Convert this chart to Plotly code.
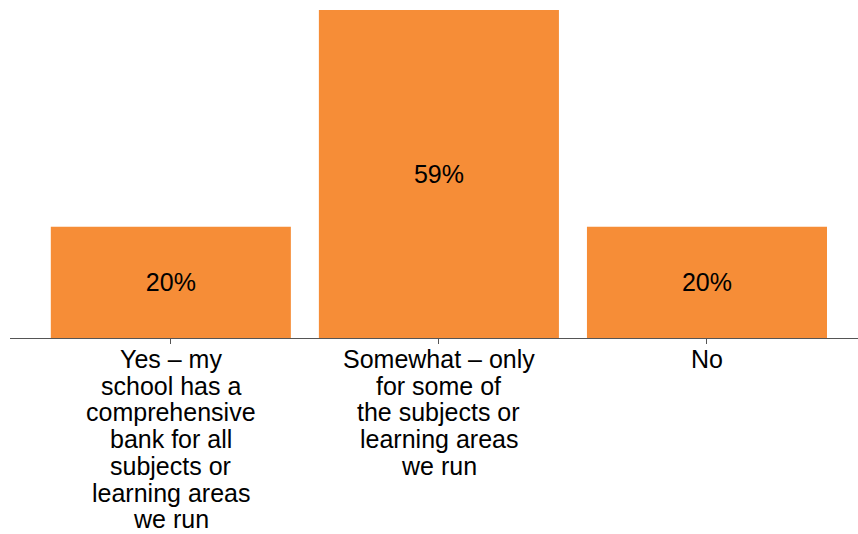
import plotly.graph_objects as go

# Survey responses and their share of respondents (%)
categories = [
    "Yes – my school has a comprehensive bank for all subjects or learning areas we run",
    "Somewhat – only for some of the subjects or learning areas we run",
    "No",
]
values = [20, 59, 20]
value_labels = ["20%", "59%", "20%"]

# Wrapped axis label lines for each category
label_lines = [
    ["Yes – my", "school has a", "comprehensive", "bank for all",
     "subjects or", "learning areas", "we run"],
    ["Somewhat – only", "for some of", "the subjects or",
     "learning areas", "we run"],
    ["No"],
]

FONT = "Liberation Sans, Arial, sans-serif"
BAR_COLOR = "#F68D37"
LINE_GAP = 26.7

fig = go.Figure(
    go.Bar(
        x=categories,
        y=values,
        text=value_labels,
        textposition="inside",
        insidetextanchor="middle",
        textangle=0,
        textfont=dict(family=FONT, size=25, color="#000000"),
        marker=dict(color=BAR_COLOR, line=dict(width=0)),
        hoverinfo="skip",
    )
)

# Category labels drawn line by line for tight line spacing
annotations = []
for cat, lines in zip(categories, label_lines):
    for i, line in enumerate(lines):
        annotations.append(
            dict(
                x=cat, y=0, xref="x", yref="y",
                text=line, showarrow=False,
                xanchor="center", yanchor="middle",
                yshift=-(21 + i * LINE_GAP),
                font=dict(family=FONT, size=25, color="#000000"),
            )
        )

fig.update_layout(
    width=858,
    height=534,
    margin=dict(l=10, r=0, t=10, b=196),
    paper_bgcolor="white",
    plot_bgcolor="white",
    showlegend=False,
    bargap=0.1045,
    font=dict(family=FONT, size=25, color="#000000"),
    annotations=annotations,
    xaxis=dict(
        type="category",
        range=[-0.6, 2.5634],
        showticklabels=False,
        ticks="outside",
        ticklen=5,
        tickwidth=1,
        tickcolor="#555555",
        showline=True,
        linecolor="#555555",
        linewidth=1,
        showgrid=False,
        zeroline=False,
        fixedrange=True,
    ),
    yaxis=dict(
        range=[0, 59],
        visible=False,
        showgrid=False,
        zeroline=False,
        fixedrange=True,
    ),
)

fig.write_html("out.html")
